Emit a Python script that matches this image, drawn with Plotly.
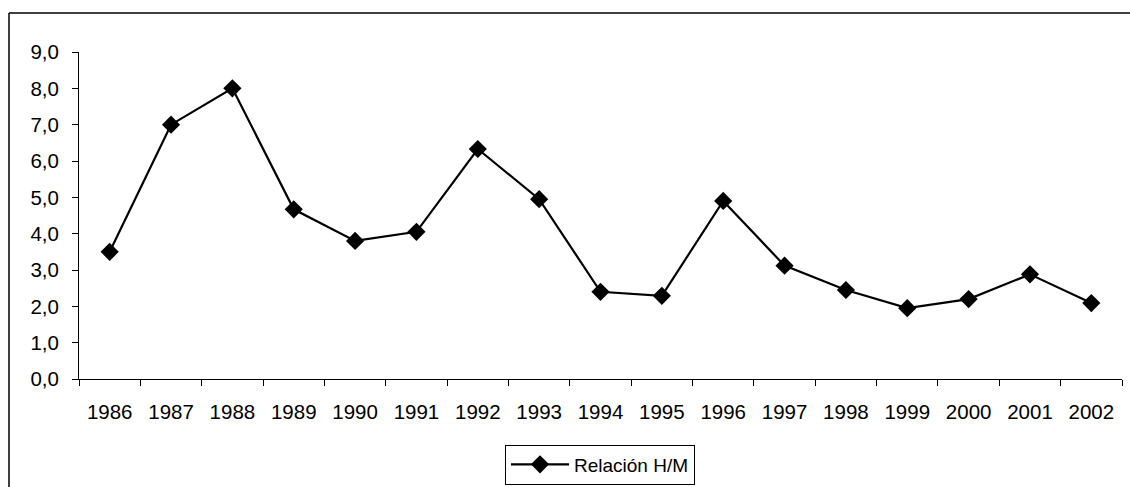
import plotly.graph_objects as go

years = ["1986", "1987", "1988", "1989", "1990", "1991", "1992", "1993", "1994",
         "1995", "1996", "1997", "1998", "1999", "2000", "2001", "2002"]
relacion_hm = [3.5, 7.0, 8.0, 4.67, 3.8, 4.05, 6.33, 4.95, 2.4,
               2.29, 4.9, 3.12, 2.45, 1.95, 2.2, 2.88, 2.09]
y_ticks = [0, 1, 2, 3, 4, 5, 6, 7, 8, 9]

FONT = "Arial, Liberation Sans, sans-serif"
FS = 20.5

fig = go.Figure()
fig.add_trace(go.Scatter(
    x=years, y=relacion_hm, mode="lines+markers", name="Relación H/M",
    line=dict(color="#000000", width=2.2),
    marker=dict(symbol="diamond", size=14, color="#000000"),
))

W, H = 1130, 487
# plot area in page pixels
PL, PR, PT, PB = 79, 1122, 52, 379


def px(x):
    return x / W


def py(y):
    return (H - y) / H


fig.update_layout(
    width=W, height=H,
    margin=dict(l=0, r=0, t=0, b=0, autoexpand=False),
    paper_bgcolor="white", plot_bgcolor="white",
    separators=",.",
    font=dict(family=FONT, size=FS, color="#000000"),
    showlegend=True,
    legend=dict(
        orientation="h", x=px(600), xanchor="center", y=py(484.5), yanchor="bottom",
        bordercolor="#000000", borderwidth=1, bgcolor="white",
        font=dict(size=19, family=FONT), itemwidth=58,
    ),
    xaxis=dict(
        domain=[px(PL), px(PR)], range=[-0.5, len(years) - 0.5], autorange=False,
        type="category", tickson="boundaries", ticks="outside", ticklen=6,
        tickcolor="#000000", showline=True, linecolor="#000000", linewidth=1,
        showgrid=False, zeroline=False, ticklabelstandoff=14,
        tickfont=dict(size=FS, family=FONT), fixedrange=True,
    ),
    yaxis=dict(
        domain=[py(PB), py(PT)],
        range=[0, 9], tickvals=y_ticks, tickformat=".1f", ticks="outside", ticklen=6,
        tickcolor="#000000", showline=True, linecolor="#000000", linewidth=1,
        showgrid=False, zeroline=False, ticklabelstandoff=9,
        tickfont=dict(size=FS, family=FONT), fixedrange=True,
    ),
    shapes=[
        dict(type="line", xref="paper", yref="paper", x0=px(9), x1=px(9),
             y0=py(13), y1=py(H + 5), line=dict(color="#000000", width=1.5)),
        dict(type="line", xref="paper", yref="paper", x0=px(9), x1=px(W + 5),
             y0=py(13), y1=py(13), line=dict(color="#000000", width=1.5)),
    ],
)

fig.write_html(
    "out.html",
    config={"displayModeBar": False},
    post_script="document.body.style.margin='0';document.body.style.overflow='hidden';",
)
